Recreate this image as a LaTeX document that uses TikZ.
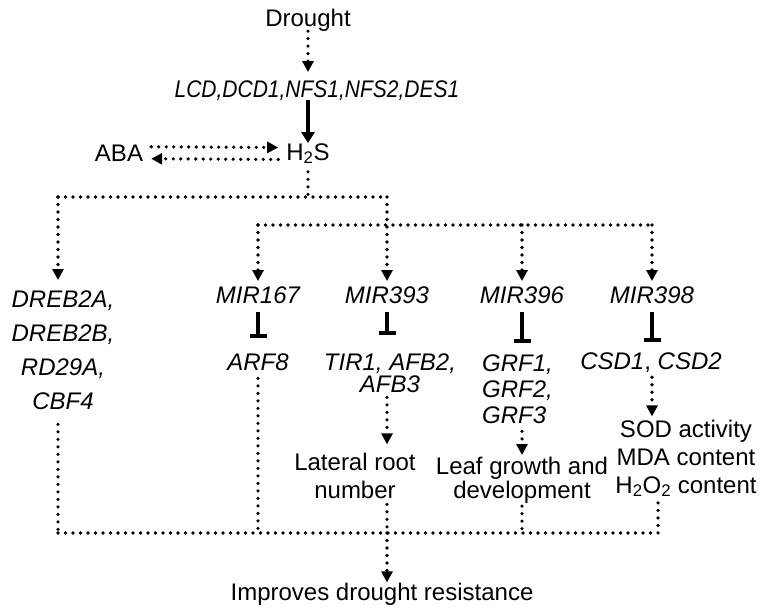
\documentclass[tikz,border=0pt]{standalone}
\usepackage{fontspec}
\setmainfont{Liberation Sans}
\usepackage{graphicx}
\usetikzlibrary{arrows.meta}
\tikzset{
  dotl/.style={line width=3.6pt, dash pattern=on 0pt off 7.5pt, line cap=round},
  dotarr/.style={dotl, -{Triangle[width=11pt,length=11pt]}},
  solidarr/.style={line width=4.5pt, -{Triangle[width=13pt,length=11pt]}},
  inhib/.style={line width=4.5pt, -{Bar[width=17pt,line width=4.5pt]}},
  lbl/.style={inner sep=0pt, anchor=base, font=\fontsize{24}{28}\selectfont},
  gene/.style={lbl, font=\fontsize{24}{28}\selectfont\itshape},
}
\begin{document}
\begin{tikzpicture}[x=1pt,y=-1pt]
\useasboundingbox[fill=white] (0,0) rectangle (763,614);
% nodes (multi-line nodes: base = baseline of last line)
\node[lbl] (drought) at (308,26) {Drought};
\node[gene] (lcd) at (317,97) {\scalebox{0.875}[1]{LCD,DCD1,NFS1,NFS2,DES1}};
\node[lbl] (h2s) at (308,160) {H\textsubscript{2}S};
\node[lbl] (aba) at (119,161) {ABA};
\node[gene, align=center, font=\fontsize{24}{34}\selectfont\itshape] (dreb) at (63,409) {DREB2A,\\DREB2B,\\RD29A,\\CBF4};
\node[gene] (mir167) at (258,303) {MIR167};
\node[gene] (mir393) at (387,303) {MIR393};
\node[gene] (mir396) at (522,303) {MIR396};
\node[gene] (mir398) at (652,303) {MIR398};
\node[gene] (arf8) at (258,370) {ARF8};
\node[gene, align=center, font=\fontsize{24}{22}\selectfont\itshape] (tir) at (390,392) {TIR1, AFB2,\\AFB3};
\node[gene, align=left, anchor=base west, font=\fontsize{24}{26}\selectfont\itshape] (grf) at (482,423) {GRF1,\\GRF2,\\GRF3};
\node[lbl] (csd) at (651,369) {\itshape CSD1\upshape, \itshape CSD2};
\node[lbl, align=center, font=\fontsize{24}{28}\selectfont] (lateral) at (355,498) {Lateral root\\number};
\node[lbl, align=center, font=\fontsize{24}{20}\selectfont] (leaf) at (522,498) {Leaf growth and\\development};
\node[lbl, align=center, font=\fontsize{24}{28}\selectfont] (sod) at (686,493) {SOD activity\\MDA content\\H\textsubscript{2}O\textsubscript{2} content};
\node[lbl] (improves) at (382,600) {Improves drought resistance};
% junctions
\coordinate (h2sb) at (308,197);
\coordinate (j1L) at (58,197);
\coordinate (j1R) at (387,197);
\coordinate (j2L) at (258,225);
\coordinate (j2R) at (652,225);
\coordinate (bL) at (58,533);
\coordinate (bM) at (387,533);
\coordinate (bR) at (658,533);
% top
\draw[dotarr, shorten >=8pt] (drought.south) -- (drought.south |- lcd.north);
\draw[solidarr] (lcd.south -| h2s) -- (h2s.north);
\draw[dotarr] ([shift={(8,-6)}]aba.east) -- ([shift={(-8,-6)}]h2s.west);
\draw[dotarr] ([shift={(-8,6)}]h2s.west) -- ([shift={(8,6)}]aba.east);
\draw[dotl, shorten <=8pt] (h2s.south) -- (h2sb);
\draw[dotl] (j1L) -- (j1R);
\draw[dotarr, shorten >=10pt] (j1L) -- (j1L |- dreb.north);
\draw[dotarr, shorten >=5pt] (j1R) -- (mir393.north);
\draw[dotl] (j2L) -- (j2R);
\draw[dotarr, shorten >=5pt] (j2L) -- (mir167.north);
\draw[dotarr, shorten >=5pt] (mir396.north |- j2L) -- (mir396.north);
\draw[dotarr, shorten >=5pt] (j2R) -- (mir398.north);
% inhibitions
\draw[inhib, shorten <=9pt, shorten >=15pt] (mir167.south) -- (arf8.north);
\draw[inhib, shorten <=9pt, shorten >=18pt] (mir393.south) -- (mir393.south |- tir.north);
\draw[inhib, shorten <=9pt, shorten >=11pt] (mir396.south) -- (mir396.south |- grf.north);
\draw[inhib, shorten <=9pt, shorten >=10pt] (mir398.south) -- (mir398.south |- csd.north);
% downstream
\draw[dotarr, shorten <=5pt, shorten >=3pt] (csd.south -| mir398) -- (sod.north -| mir398);
\draw[dotarr, shorten <=5pt, shorten >=8pt] (tir.south -| mir393) -- (lateral.north -| mir393);
\draw[dotarr, shorten <=8pt, shorten >=2pt] (grf.south -| mir396) -- (leaf.north -| mir396);
% bottom
\draw[dotl, shorten <=15pt] (dreb.south -| bL) -- (bL);
\draw[dotl, shorten <=8pt] (arf8.south) -- (arf8.south |- bL);
\draw[dotl, shorten <=6pt] (lateral.south -| bM) -- (bM);
\draw[dotl, shorten <=3pt] (leaf.south -| mir396) -- (mir396 |- bL);
\draw[dotl, shorten <=6pt] (sod.south -| bR) -- (bR);
\draw[dotl] (bL) -- (bR);
\draw[dotarr] (bM) -- (improves.north -| bM);
\end{tikzpicture}
\end{document}
